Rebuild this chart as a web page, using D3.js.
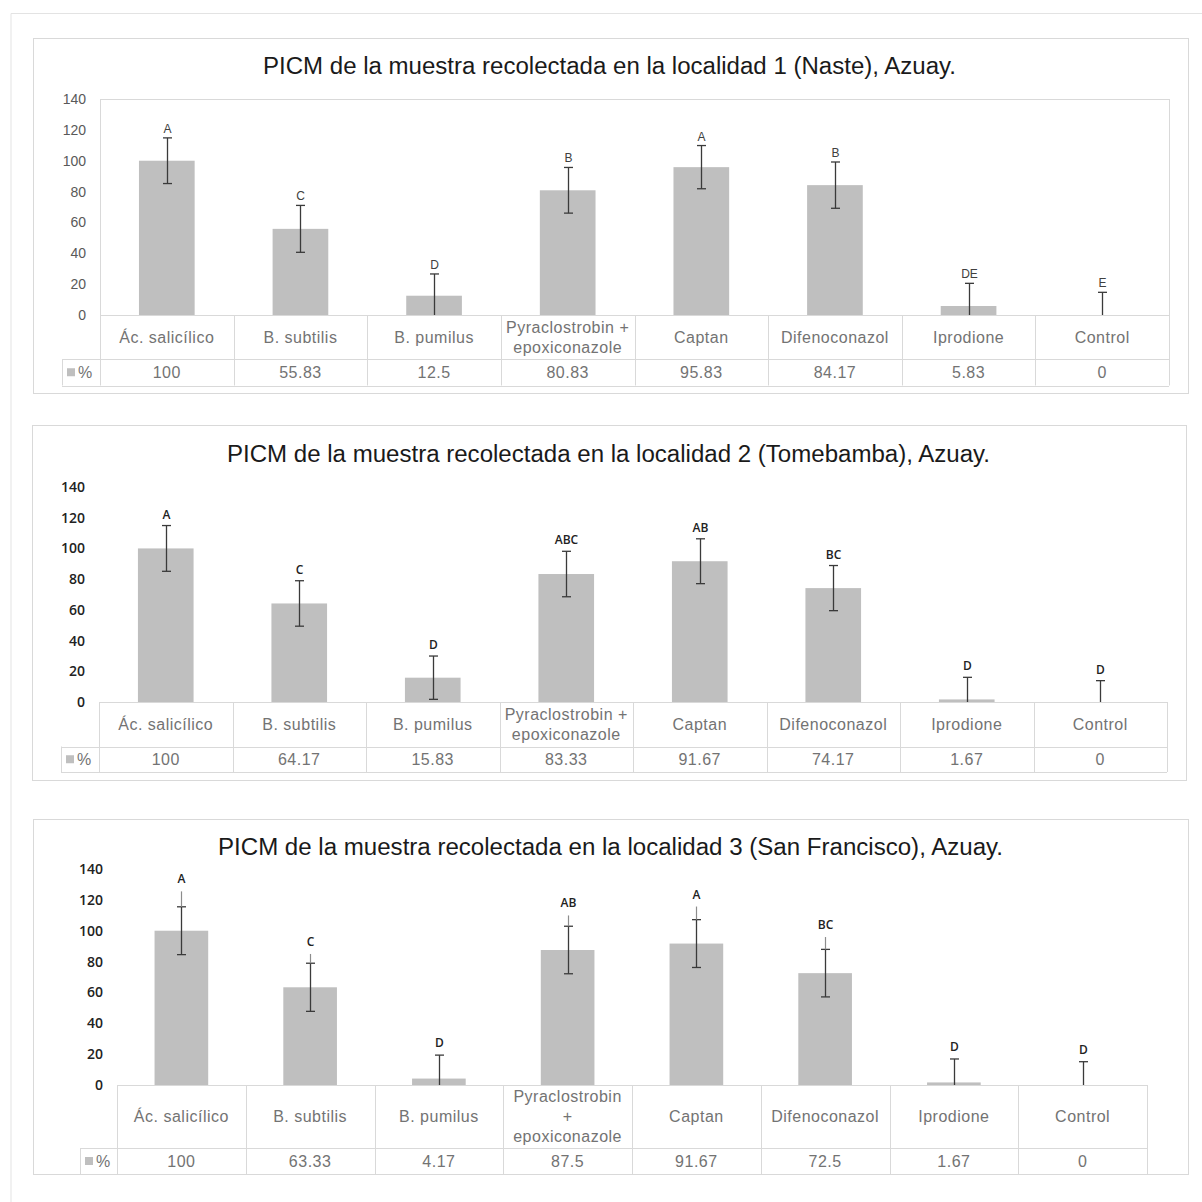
<!DOCTYPE html>
<html>
<head>
<meta charset="utf-8">
<script src="https://cdn.jsdelivr.net/npm/d3@7"></script>
<style>
  html, body { margin: 0; padding: 0; background: #fff; }
  svg { display: block; }
</style>
</head>
<body>
<script>
// Treatments shown in every panel
const categories = ["Ác. salicílico", "B. subtilis", "B. pumilus", "Pyraclostrobin + epoxiconazole",
                    "Captan", "Difenoconazol", "Iprodione", "Control"];
// How the long treatment name wraps inside its table cell
const labelLinesWide = [["Ác. salicílico"], ["B. subtilis"], ["B. pumilus"], ["Pyraclostrobin +", "epoxiconazole"],
                        ["Captan"], ["Difenoconazol"], ["Iprodione"], ["Control"]];
const labelLinesNarrow = [["Ác. salicílico"], ["B. subtilis"], ["B. pumilus"], ["Pyraclostrobin", "+", "epoxiconazole"],
                          ["Captan"], ["Difenoconazol"], ["Iprodione"], ["Control"]];

const titles = [
  "PICM de la muestra recolectada en la localidad 1 (Naste), Azuay.",
  "PICM de la muestra recolectada en la localidad 2 (Tomebamba), Azuay.",
  "PICM de la muestra recolectada en la localidad 3 (San Francisco), Azuay."
];

// PICM (%) per treatment
const pct1 = [100, 55.83, 12.5, 80.83, 95.83, 84.17, 5.83, 0];
const pct2 = [100, 64.17, 15.83, 83.33, 91.67, 74.17, 1.67, 0];
const pct3 = [100, 63.33, 4.17, 87.5, 91.67, 72.5, 1.67, 0];

// Error bar half-widths (±)
const err1 = [14.8, 15.2, 14.1, 14.8, 14.0, 15.0, 14.7, 14.7];
const err2 = [14.9, 14.8, 14.1, 14.8, 14.6, 14.7, 14.4, 13.9];
const err3 = [15.5, 15.6, 15.2, 15.4, 15.5, 15.4, 15.2, 15.1];
// Extra upper whisker beyond the cap (locality 3)
const ext3 = [10, 6, 0, 7, 8.5, 8, 0, 0];

// Significance groups
const letters1 = ["A", "C", "D", "B", "A", "B", "DE", "E"];
const letters2 = ["A", "C", "D", "ABC", "AB", "BC", "D", "D"];
const letters3 = ["A", "C", "D", "AB", "A", "BC", "D", "D"];

const yTicks = [0, 20, 40, 60, 80, 100, 120, 140];
const seriesName = "%";

// Panel layout
const panels = [
  { title: titles[0], values: pct1, err: err1, ext: null, letters: letters1, lines: labelLinesWide,
    box: { x: 33, y: 38, w: 1155, h: 355 }, left: 100, right: 1169, top: 99, zero: 315,
    row1: 359, row2: 385.5, legendLeft: 62, titleY: 74, titleW: 693, titleX: 609.5,
    plotBorder: true, tickFont: "'Liberation Sans', Arial, sans-serif", tickColor: "#595959", tickWeight: 400,
    letterFont: "'Liberation Sans', Arial, sans-serif", letterWeight: 400, letterColor: "#404040", letterGap: 5 },
  { title: titles[1], values: pct2, err: err2, ext: null, letters: letters2, lines: labelLinesWide,
    box: { x: 32, y: 425, w: 1154, h: 355 }, left: 99, right: 1167, top: 487, zero: 702,
    row1: 746.5, row2: 772, legendLeft: 61, titleY: 462, titleW: 763, titleX: 608.5,
    plotBorder: false, tickFont: "'Open Sans', sans-serif", tickColor: "#222", tickWeight: 600,
    letterFont: "'Open Sans', sans-serif", letterWeight: 600, letterColor: "#222", letterGap: 7 },
  { title: titles[2], values: pct3, err: err3, ext: ext3, letters: letters3, lines: labelLinesNarrow,
    box: { x: 33, y: 819, w: 1155, h: 355 }, left: 117, right: 1147, top: 869, zero: 1085,
    row1: 1148, row2: 1174, legendLeft: 80, titleY: 855, titleW: 785, titleX: 610.5,
    plotBorder: false, tickFont: "'Open Sans', sans-serif", tickColor: "#222", tickWeight: 600,
    letterFont: "'Open Sans', sans-serif", letterWeight: 600, letterColor: "#222", letterGap: 8 }
];

const W = 1202, H = 1202;
const gridColor = "#d9d9d9";
const barColor = "#bfbfbf";
const textGray = "#737373";

const svg = d3.select("body").append("svg")
  .attr("width", W).attr("height", H);

// Outer page frame
svg.append("path")
  .attr("d", `M11,${H} V13.5 H${W}`)
  .attr("fill", "none").attr("stroke", "#e3e3e3").attr("stroke-width", 1);

panels.forEach(p => {
  const g = svg.append("g");

  // Chart frame
  g.append("rect")
    .attr("x", p.box.x + 0.5).attr("y", p.box.y + 0.5)
    .attr("width", p.box.w).attr("height", p.box.h)
    .attr("fill", "#fff").attr("stroke", gridColor);

  // Title
  g.append("text")
    .attr("x", p.titleX).attr("y", p.titleY)
    .attr("text-anchor", "middle")
    .attr("font-family", "'Liberation Sans', Arial, sans-serif")
    .attr("font-size", 23)
    .attr("fill", "#1a1a1a")
    .attr("textLength", p.titleW)
    .attr("lengthAdjust", "spacingAndGlyphs")
    .text(p.title);

  const x = d3.scaleBand()
    .domain(categories)
    .range([p.left, p.right])
    .paddingInner(0.5833)
    .paddingOuter(0.29165);
  const y = d3.scaleLinear().domain([0, 140]).range([p.zero, p.top]);
  const step = x.step();

  // Plot area border
  if (p.plotBorder) {
    g.append("rect")
      .attr("x", p.left + 0.5).attr("y", p.top + 0.5)
      .attr("width", p.right - p.left).attr("height", p.zero - p.top)
      .attr("fill", "none").attr("stroke", gridColor);
  }

  // Y axis labels
  const yAxis = d3.axisLeft(y).tickValues(yTicks).tickSize(0).tickPadding(0)
    .tickFormat(d3.format("d"));
  const ax = g.append("g")
    .attr("transform", `translate(${p.left - 14},0)`)
    .call(yAxis);
  ax.select(".domain").remove();
  ax.selectAll("text")
    .attr("font-family", p.tickFont)
    .attr("font-size", 14)
    .attr("font-weight", p.tickWeight)
    .attr("fill", p.tickColor);

  // Bars
  g.selectAll("rect.bar")
    .data(categories)
    .join("rect")
    .attr("class", "bar")
    .attr("x", d => x(d))
    .attr("width", x.bandwidth())
    .attr("y", (d, i) => y(p.values[i]))
    .attr("height", (d, i) => y(0) - y(p.values[i]))
    .attr("fill", barColor);

  // Error bars
  const eb = g.append("g").attr("stroke", "#3a3a3a").attr("stroke-width", 1.3).attr("fill", "none");
  const cap = 4.5;
  categories.forEach((c, i) => {
    const cx = Math.round(x(c) + x.bandwidth() / 2) + 0.5;
    const v = p.values[i];
    const hi = v + p.err[i];
    const lo = Math.max(0, v - p.err[i]);
    eb.append("line").attr("x1", cx).attr("x2", cx).attr("y1", y(hi)).attr("y2", y(lo));
    eb.append("line").attr("x1", cx - cap).attr("x2", cx + cap).attr("y1", y(hi)).attr("y2", y(hi));
    if (lo > 0) {
      eb.append("line").attr("x1", cx - cap).attr("x2", cx + cap).attr("y1", y(lo)).attr("y2", y(lo));
    }
    let top = hi;
    if (p.ext && p.ext[i] > 0) {
      top = hi + p.ext[i];
      g.append("line")
        .attr("x1", cx).attr("x2", cx).attr("y1", y(top)).attr("y2", y(hi))
        .attr("stroke", "#8c8c8c").attr("stroke-width", 1.2);
    }
    // Significance letter
    g.append("text")
      .attr("x", cx).attr("y", y(top) - p.letterGap)
      .attr("text-anchor", "middle")
      .attr("font-family", p.letterFont)
      .attr("font-weight", p.letterWeight)
      .attr("font-size", 12)
      .attr("fill", p.letterColor)
      .text(p.letters[i]);
  });

  // Data table
  const tg = g.append("g").attr("stroke", gridColor).attr("stroke-width", 1).attr("fill", "none");
  const hline = (x1, x2, yy) => tg.append("line").attr("x1", x1).attr("x2", x2)
    .attr("y1", Math.round(yy) + 0.5).attr("y2", Math.round(yy) + 0.5);
  const vline = (xx, y1, y2) => tg.append("line").attr("y1", y1).attr("y2", y2)
    .attr("x1", Math.round(xx) + 0.5).attr("x2", Math.round(xx) + 0.5);

  hline(p.left, p.right, p.zero);
  hline(p.legendLeft, p.right, p.row1);
  hline(p.legendLeft, p.right, p.row2);
  vline(p.legendLeft, p.row1, p.row2);
  d3.range(categories.length + 1).forEach(k => {
    vline(p.left + k * step, p.zero, p.row2);
  });

  // Category names
  const row1Mid = (p.zero + p.row1) / 2;
  const lineH = 20;
  categories.forEach((c, i) => {
    const cx = p.left + (i + 0.5) * step;
    const lines = p.lines[i];
    const t = g.append("text")
      .attr("text-anchor", "middle")
      .attr("font-family", "'Liberation Sans', Arial, sans-serif")
      .attr("font-size", 16)
      .attr("letter-spacing", 0.5)
      .attr("fill", textGray);
    lines.forEach((ln, k) => {
      t.append("tspan")
        .attr("x", cx)
        .attr("y", row1Mid + (k - (lines.length - 1) / 2) * lineH)
        .attr("dy", "0.36em")
        .text(ln);
    });
  });

  // Values row
  const row2Mid = (p.row1 + p.row2) / 2;
  categories.forEach((c, i) => {
    g.append("text")
      .attr("x", p.left + (i + 0.5) * step)
      .attr("y", row2Mid).attr("dy", "0.36em")
      .attr("text-anchor", "middle")
      .attr("font-family", "'Liberation Sans', Arial, sans-serif")
      .attr("font-size", 16)
      .attr("letter-spacing", 0.5)
      .attr("fill", textGray)
      .text(String(p.values[i]));
  });

  // Legend key in the table
  g.append("rect")
    .attr("x", p.legendLeft + 5).attr("y", row2Mid - 4)
    .attr("width", 8).attr("height", 8)
    .attr("fill", barColor);
  g.append("text")
    .attr("x", p.legendLeft + 16).attr("y", row2Mid).attr("dy", "0.36em")
    .attr("font-family", "'Liberation Sans', Arial, sans-serif")
    .attr("font-size", 16)
    .attr("fill", textGray)
    .text(seriesName);
});
</script>
</body>
</html>
